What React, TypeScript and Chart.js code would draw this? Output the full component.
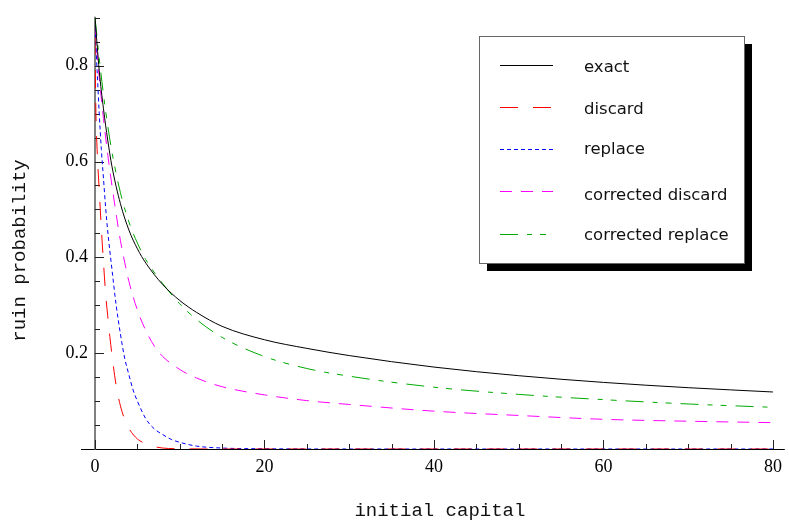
import React, { useEffect, useRef } from 'react';
import { Chart, registerables } from 'chart.js';

Chart.register(...registerables);

// ---- data ----
const seriesLabels = ['exact', 'discard', 'replace', 'corrected discard', 'corrected replace'];
const seriesColors = ['#000000', '#ff0000', '#0000ff', '#ff00ff', '#00aa00'];
const seriesDashes = [[], [18, 15], [4, 3], [12, 9], [18, 9, 5, 8, 6, 9]];

const xExact = [0, 0.5, 1, 1.5, 2, 3, 4, 5, 6, 8, 10, 12, 15, 20, 25, 30, 40, 50, 60, 70, 80];
const yExact = [0.9, 0.79, 0.71, 0.645, 0.59, 0.512, 0.457, 0.418, 0.388, 0.343, 0.31, 0.285, 0.256, 0.228, 0.21, 0.195, 0.171, 0.153, 0.139, 0.128, 0.119];

const xDiscard = [0, 0.1, 0.25, 0.5, 0.75, 1, 1.25, 1.5, 1.75, 2, 2.5, 3, 3.5, 4, 5, 6, 7, 8, 10, 15, 80];
const yDiscard = [0.86, 0.71, 0.625, 0.54, 0.46, 0.39, 0.325, 0.278, 0.235, 0.197, 0.132, 0.09, 0.062, 0.043, 0.021, 0.011, 0.005, 0.002, 0.0005, 0, 0];

const xReplace = [0, 0.25, 0.5, 0.75, 1, 1.25, 1.5, 2, 2.5, 3, 3.5, 4, 4.5, 5, 6, 7, 8, 9, 10, 12, 15, 20, 30, 80];
const yReplace = [0.88, 0.79, 0.7, 0.625, 0.565, 0.505, 0.455, 0.375, 0.3, 0.24, 0.19, 0.155, 0.123, 0.1, 0.063, 0.042, 0.03, 0.02, 0.014, 0.006, 0.002, 0.0005, 0, 0];

const xCorrDiscard = [0, 0.5, 1, 1.5, 2, 2.5, 3, 3.5, 4, 5, 6, 7, 8, 10, 12, 15, 20, 25, 30, 40, 50, 60, 70, 80];
const yCorrDiscard = [0.88, 0.775, 0.69, 0.615, 0.55, 0.49, 0.435, 0.39, 0.35, 0.29, 0.247, 0.215, 0.193, 0.166, 0.148, 0.13, 0.113, 0.101, 0.093, 0.079, 0.07, 0.062, 0.058, 0.055];

const xCorrReplace = [0, 0.5, 1, 1.5, 2, 3, 4, 5, 6, 8, 10, 12, 15, 20, 25, 30, 40, 50, 60, 70, 80];
const yCorrReplace = [0.9, 0.815, 0.74, 0.675, 0.62, 0.535, 0.474, 0.43, 0.395, 0.345, 0.303, 0.27, 0.233, 0.193, 0.168, 0.152, 0.129, 0.114, 0.103, 0.094, 0.087];

const xTickValues = [0, 20, 40, 60, 80];
const xMinorTickValues = [5, 10, 15, 25, 30, 35, 45, 50, 55, 65, 70, 75];
const yTickValues = [0.2, 0.4, 0.6, 0.8];
const yMinorTickValues = [0.05, 0.1, 0.15, 0.25, 0.3, 0.35, 0.45, 0.5, 0.55, 0.65, 0.7, 0.75, 0.85, 0.9];

const toPoints = (xs: number[], ys: number[]) => xs.map((x, i) => ({ x, y: ys[i] }));

// ---- plugins ----
const axesPlugin = {
  id: 'mmaAxes',
  beforeDatasetsDraw(chart: any) {
    const { ctx, chartArea, scales } = chart;
    const xs = scales.x;
    const ys = scales.y;
    const yAxis = Math.round(ys.getPixelForValue(0)) + 0.5;
    const xAxis = Math.round(xs.getPixelForValue(0));
    ctx.save();
    ctx.setLineDash([]);
    ctx.strokeStyle = '#000';
    ctx.lineWidth = 1;
    ctx.beginPath();
    ctx.moveTo(chartArea.left - 14, yAxis);
    ctx.lineTo(chartArea.right, yAxis);
    ctx.stroke();
    ctx.strokeStyle = '#808080';
    ctx.lineWidth = 2;
    ctx.beginPath();
    ctx.moveTo(xAxis, chartArea.top - 1);
    ctx.lineTo(xAxis, yAxis);
    ctx.stroke();
    ctx.strokeStyle = '#222';
    ctx.lineWidth = 1;
    ctx.beginPath();
    const yBase = yAxis - 0.5;
    xTickValues.forEach((v) => {
      const p = Math.round(xs.getPixelForValue(v)) + 0.5;
      ctx.moveTo(p, yBase);
      ctx.lineTo(p, yBase - 9);
    });
    xMinorTickValues.forEach((v) => {
      const p = Math.round(xs.getPixelForValue(v)) + 0.5;
      ctx.moveTo(p, yBase);
      ctx.lineTo(p, yBase - 5);
    });
    yTickValues.forEach((v) => {
      const p = Math.round(ys.getPixelForValue(v)) + 0.5;
      ctx.moveTo(xAxis, p);
      ctx.lineTo(xAxis + 9, p);
    });
    yMinorTickValues.forEach((v) => {
      const p = Math.round(ys.getPixelForValue(v)) + 0.5;
      ctx.moveTo(xAxis, p);
      ctx.lineTo(xAxis + 5, p);
    });
    ctx.stroke();
    ctx.restore();
  },
};

const boxLegendPlugin = {
  id: 'boxLegend',
  afterDraw(chart: any) {
    const ctx = chart.ctx;
    const L = 479, T = 36, W = 265, H = 227, S = 8;
    ctx.save();
    ctx.setLineDash([]);
    ctx.fillStyle = '#000';
    ctx.fillRect(L + S, T + S, W, H);
    ctx.fillStyle = '#fff';
    ctx.fillRect(L, T, W, H);
    ctx.strokeStyle = '#666';
    ctx.lineWidth = 1;
    ctx.strokeRect(L + 0.5, T + 0.5, W, H);
    const lineRows = [65.5, 107.5, 149.5, 191.5, 234.5];
    const textRows = [71.5, 114, 153.5, 199.5, 240];
    chart.data.datasets.forEach((ds: any, i: number) => {
      const opts = chart.getDatasetMeta(i).dataset?.options || {};
      ctx.setLineDash(seriesDashes[i]);
      ctx.strokeStyle = seriesColors[i] || opts.borderColor;
      ctx.lineWidth = 1;
      ctx.beginPath();
      ctx.moveTo(500, lineRows[i]);
      ctx.lineTo(553, lineRows[i]);
      ctx.stroke();
      ctx.setLineDash([]);
      ctx.fillStyle = '#111';
      ctx.font = '16.5px "DejaVu Sans"';
      ctx.textAlign = 'left';
      ctx.textBaseline = 'alphabetic';
      ctx.fillText(ds.label, 584, textRows[i]);
    });
    ctx.restore();
  },
};

export default function App() {
  const canvasRef = useRef<HTMLCanvasElement>(null);

  useEffect(() => {
    if (!canvasRef.current) return;
    const series = [
      [xExact, yExact],
      [xDiscard, yDiscard],
      [xReplace, yReplace],
      [xCorrDiscard, yCorrDiscard],
      [xCorrReplace, yCorrReplace],
    ];
    const chart = new Chart(canvasRef.current, {
      type: 'line',
      data: {
        datasets: series.map(([xs, ys], i) => ({
          label: seriesLabels[i],
          data: toPoints(xs, ys),
          borderColor: seriesColors[i],
          backgroundColor: seriesColors[i],
          borderWidth: 1,
          borderDash: seriesDashes[i],
        })),
      },
      options: {
        animation: false,
        responsive: false,
        layout: { padding: { top: 11, right: 4, left: 0, bottom: 0 } },
        elements: {
          point: { radius: 0, hoverRadius: 0 },
          line: { cubicInterpolationMode: 'monotone', fill: false },
        },
        plugins: {
          legend: { display: false },
          tooltip: { enabled: false },
        },
        scales: {
          x: {
            type: 'linear',
            min: 0,
            max: 81.4,
            afterFit: (s: any) => { s.height = 72; },
            afterBuildTicks: (s: any) => { s.ticks = xTickValues.map((v) => ({ value: v })); },
            grid: { display: false, drawTicks: false, tickLength: 0 },
            border: { display: false },
            ticks: {
              padding: 7,
              autoSkip: false,
              maxRotation: 0,
              color: '#000',
              font: { family: '"Liberation Serif"', size: 18, lineHeight: 1.2 },
              callback: (v: any) => String(v),
            },
            title: {
              display: true,
              text: 'initial capital',
              color: '#111',
              font: { family: '"Liberation Mono"', size: 19, lineHeight: 1 },
              padding: { top: 0, bottom: 1 },
            },
          },
          y: {
            type: 'linear',
            min: 0,
            max: 0.9,
            afterFit: (s: any) => { s.width = 95; },
            afterBuildTicks: (s: any) => { s.ticks = yTickValues.map((v) => ({ value: v })); },
            grid: { display: false, drawTicks: false, tickLength: 0 },
            border: { display: false },
            ticks: {
              padding: 7,
              autoSkip: false,
              color: '#000',
              font: { family: '"Liberation Serif"', size: 18, lineHeight: 1.2 },
              callback: (v: any) => Number(v).toFixed(1),
            },
            title: {
              display: true,
              text: 'ruin probability   ',
              color: '#111',
              font: { family: '"Liberation Mono"', size: 19, lineHeight: 1 },
              padding: { top: 10.5, bottom: 0 },
            },
          },
        },
      } as any,
      plugins: [axesPlugin, boxLegendPlugin],
    });
    return () => chart.destroy();
  }, []);

  return (
    <div style={{ position: 'fixed', left: 0, top: 0, width: 789, height: 521, background: '#fff' }}>
      <canvas ref={canvasRef} width={789} height={521} style={{ display: 'block', width: 789, height: 521 }} />
    </div>
  );
}
